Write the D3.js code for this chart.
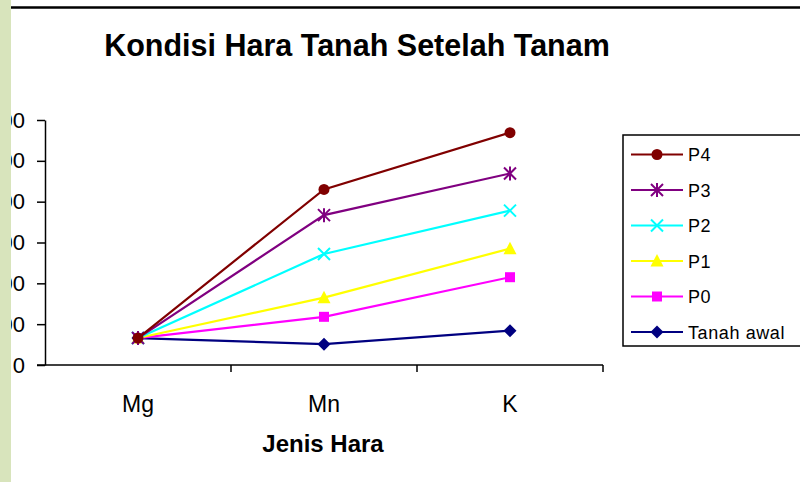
<!DOCTYPE html>
<html>
<head>
<meta charset="utf-8">
<script src="https://cdn.jsdelivr.net/npm/d3@7"></script>
<style>
  body { margin: 0; background: #fff; }
  svg { display: block; font-family: Arial, "Liberation Sans", sans-serif; }
</style>
</head>
<body>
<div id="chart"></div>
<script>
// data
var categories = ["Mg", "Mn", "K"];
var yTicks = [0, 100, 200, 300, 400, 500, 600];
var seriesNames = ["P4", "P3", "P2", "P1", "P0", "Tanah awal"];
var p4 = [66, 430, 569];
var p3 = [66, 367, 469];
var p2 = [66, 272, 378];
var p1 = [66, 165, 285];
var p0 = [66, 118, 215];
var tanahAwal = [66, 51, 84];

var colors = ["#800000", "#800080", "#00ffff", "#ffff00", "#ff00ff", "#000080"];
var shapes = ["circle", "asterisk", "times", "triangle", "square", "diamond"];
var values = [p4, p3, p2, p1, p0, tanahAwal];

var W = 800, H = 482;
var svg = d3.select("#chart").append("svg").attr("width", W).attr("height", H);

var x = d3.scaleBand().domain(categories).range([45, 603]).padding(0);
var y = d3.scaleLinear().domain([0, 600]).range([365, 120]);

function markerPath(shape) {
    if (shape == "circle") return d3.symbol(d3.symbolCircle, 95)();
    if (shape == "square") return "M-5,-5H5V5H-5Z";
    if (shape == "triangle") return "M0,-7L6.5,5.5L-6.5,5.5Z";
    if (shape == "diamond") return "M0,-6.5L6.5,0L0,6.5L-6.5,0Z";
    if (shape == "times") return "M-6,-6L6,6M-6,6L6,-6";
    // asterisk
    return "M-6,-6L6,6M-6,6L6,-6M0,-7V7";
}
function isStroke(shape) { return shape == "times" || shape == "asterisk"; }

// title
svg.append("text")
    .attr("x", 357).attr("y", 56)
    .attr("text-anchor", "middle")
    .attr("font-size", 30.5).attr("font-weight", "bold")
    .text("Kondisi Hara Tanah Setelah Tanam");

// y axis (labels are partly hidden behind the green strip, as in the original)
var yAxis = svg.append("g")
    .attr("transform", "translate(45,0)")
    .call(d3.axisLeft(y).tickValues(yTicks).tickSize(8).tickPadding(12).tickSizeOuter(0));
yAxis.select(".domain").attr("stroke", "#000").attr("stroke-width", 1.5);
yAxis.selectAll(".tick line").attr("stroke", "#000").attr("stroke-width", 1.5);
yAxis.selectAll(".tick text").attr("font-size", 22).attr("font-family", "Arial, 'Liberation Sans', sans-serif").attr("fill", "#000");

// x axis
var xg = svg.append("g");
xg.append("line")
    .attr("x1", 37).attr("x2", x.range()[1])
    .attr("y1", y(0)).attr("y2", y(0))
    .attr("stroke", "#000").attr("stroke-width", 1.5);
var bounds = categories.map(function (c) { return x(c); }).concat([x.range()[1]]);
xg.selectAll(".xt").data(bounds.slice(1)).enter().append("line")
    .attr("x1", function (d) { return d; }).attr("x2", function (d) { return d; })
    .attr("y1", y(0)).attr("y2", y(0) + 7)
    .attr("stroke", "#000").attr("stroke-width", 1.5);
xg.selectAll(".xl").data(categories).enter().append("text")
    .attr("x", function (d) { return x(d) + x.bandwidth() / 2; })
    .attr("y", 412)
    .attr("text-anchor", "middle")
    .attr("font-size", 23)
    .text(function (d) { return d; });

svg.append("text")
    .attr("x", 323).attr("y", 452)
    .attr("text-anchor", "middle")
    .attr("font-size", 24).attr("font-weight", "bold")
    .text("Jenis Hara");

// lines, bottom series first so P4 sits on top
var line = d3.line()
    .x(function (d, i) { return x(categories[i]) + x.bandwidth() / 2; })
    .y(function (d) { return y(d); });

for (var s = values.length - 1; s >= 0; s--) {
    var g = svg.append("g");
    g.append("path")
        .attr("d", line(values[s]))
        .attr("fill", "none")
        .attr("stroke", colors[s])
        .attr("stroke-width", 2.2);
    g.selectAll("path.m").data(values[s]).enter().append("path")
        .attr("class", "m")
        .attr("transform", function (d, i) {
            return "translate(" + (x(categories[i]) + x.bandwidth() / 2) + "," + y(d) + ")";
        })
        .attr("d", markerPath(shapes[s]))
        .attr("fill", isStroke(shapes[s]) ? "none" : colors[s])
        .attr("stroke", colors[s])
        .attr("stroke-width", isStroke(shapes[s]) ? 2 : 0);
}

// legend
var legend = svg.append("g");
legend.append("rect")
    .attr("x", 623).attr("y", 135)
    .attr("width", 200).attr("height", 211)
    .attr("fill", "#fff").attr("stroke", "#000").attr("stroke-width", 1.5);
seriesNames.forEach(function (name, i) {
    var ly = 154.5 + i * 35.5;
    legend.append("line")
        .attr("x1", 631).attr("x2", 683).attr("y1", ly).attr("y2", ly)
        .attr("stroke", colors[i]).attr("stroke-width", 2);
    legend.append("path")
        .attr("transform", "translate(657," + ly + ")")
        .attr("d", markerPath(shapes[i]))
        .attr("fill", isStroke(shapes[i]) ? "none" : colors[i])
        .attr("stroke", colors[i])
        .attr("stroke-width", isStroke(shapes[i]) ? 2 : 0);
    legend.append("text")
        .attr("x", 688).attr("y", ly + 6.5)
        .attr("font-size", 18)
        .attr("letter-spacing", 0.6)
        .text(name);
});

// frame bits: top rule and green strip on the left
svg.append("line")
    .attr("x1", 11).attr("x2", W).attr("y1", 7.5).attr("y2", 7.5)
    .attr("stroke", "#000").attr("stroke-width", 2.5);
svg.append("rect")
    .attr("x", 0).attr("y", 0).attr("width", 11).attr("height", H)
    .attr("fill", "#d8e4bc");
</script>
</body>
</html>
